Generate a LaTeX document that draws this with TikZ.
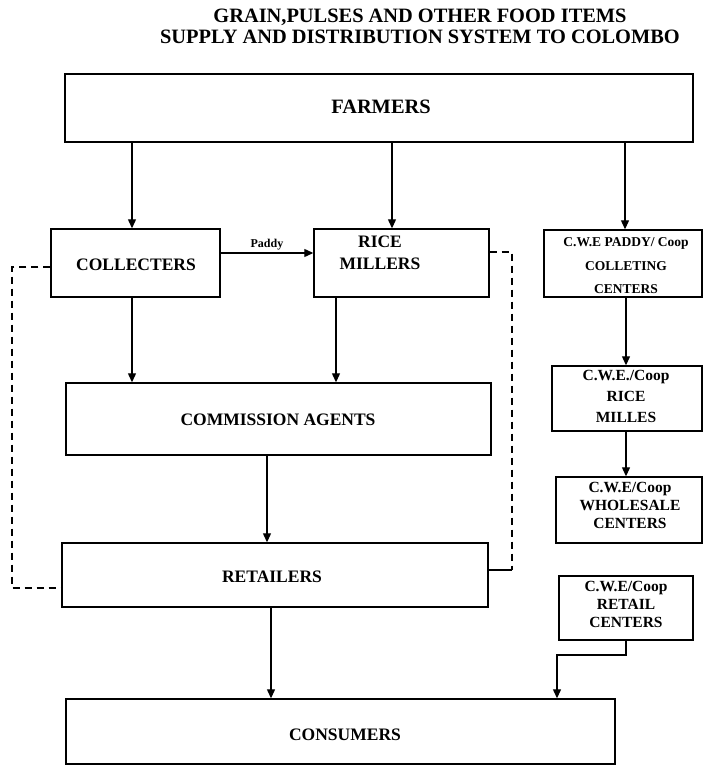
\documentclass[tikz,border=0pt]{standalone}
\usepackage{fontspec}
\setmainfont{Liberation Serif}
\usetikzlibrary{arrows.meta,calc}
\begin{document}
\begin{tikzpicture}[x=1pt,y=-1pt,
  box/.style={draw,line width=1.4pt,inner sep=0pt},
  arr/.style={line width=1.2pt,-{Triangle[length=9pt,width=8pt]}},
  dsh/.style={line width=1.7pt,dash pattern=on 7pt off 5pt},
  big/.style={font=\bfseries\fontsize{20.4}{22}\selectfont},
  lbl/.style={font=\bfseries\fontsize{17.5}{22}\selectfont,align=center,inner sep=0pt},
  sml/.style={font=\bfseries\fontsize{15.5}{18}\selectfont,align=center,inner sep=0pt},
]
\useasboundingbox (0,0) rectangle (703,767);
% title
\node[big,anchor=base,inner sep=0pt] (t1) at (420,23) {GRAIN,PULSES AND OTHER FOOD ITEMS};
\node[big,anchor=base,inner sep=0pt] (t2) at (420,43.5) {SUPPLY AND DISTRIBUTION SYSTEM TO COLOMBO};
% boxes
\node[box,minimum width=628,minimum height=68] (farm) at (379,108) {};
\node[big,inner sep=0pt] (farmt) at (381,107) {FARMERS};
\node[box,minimum width=169,minimum height=68] (coll) at (135.5,263) {};
\node[lbl] (collt) at (136,265) {COLLECTERS};
\node[box,minimum width=175,minimum height=68] (rice) at (401.5,263) {};
\node[lbl] (ricet) at (380,253) {RICE\\MILLERS};
\node[box,minimum width=158,minimum height=67] (pad) at (623,263.5) {};
\node[sml,font=\bfseries\fontsize{13.5}{23.5}\selectfont] (padt) at (626,266) {C.W.E PADDY/ Coop\\COLLETING\\CENTERS};
\node[box,minimum width=150,minimum height=65] (mil) at (627,398.5) {};
\node[sml,font=\bfseries\fontsize{15.5}{21}\selectfont] (milt) at (626,396) {C.W.E./Coop\\RICE\\MILLES};
\node[box,minimum width=146,minimum height=66] (whs) at (629,510) {};
\node[sml] (whst) at (630,505) {C.W.E/Coop\\WHOLESALE\\CENTERS};
\node[box,minimum width=134,minimum height=64] (rtl) at (626,608) {};
\node[sml] (rtlt) at (626,604) {C.W.E/Coop\\RETAIL\\CENTERS};
\node[box,minimum width=425,minimum height=72] (comm) at (278.5,419) {};
\node[lbl] (commt) at (278,420) {COMMISSION AGENTS};
\node[box,minimum width=426,minimum height=64] (ret) at (275,575) {};
\node[lbl] (rett) at (272,577) {RETAILERS};
\node[box,minimum width=549,minimum height=65] (cons) at (340.5,731.5) {};
\node[lbl] (const) at (345,735) {CONSUMERS};
% x positions
\coordinate (xa) at (132,0);
\coordinate (xb) at (392,0);
\coordinate (xc) at (625,0);
\coordinate (xd) at (336,0);
\coordinate (xe) at (267,0);
\coordinate (xf) at (271,0);
\coordinate (xg) at (626,0);
\coordinate (ya) at (0,253);
% arrows
\draw[arr] (farm.south -| xa) -- (coll.north -| xa);
\draw[arr] (farm.south -| xb) -- (rice.north -| xb);
\draw[arr] (farm.south -| xc) -- (pad.north -| xc);
\draw[arr] (coll.east |- ya) -- node[above=1pt,font=\bfseries\fontsize{12}{13}\selectfont,inner sep=1pt] (paddy) {Paddy} (rice.west |- ya);
\draw[arr] (coll.south -| xa) -- (comm.north -| xa);
\draw[arr] (rice.south -| xd) -- (comm.north -| xd);
\draw[arr] (comm.south -| xe) -- (ret.north -| xe);
\draw[arr] (ret.south -| xf) -- (cons.north -| xf);
\draw[arr] (pad.south -| xg) -- (mil.north -| xg);
\draw[arr] (mil.south -| xg) -- (whs.north -| xg);
\coordinate (rb1) at (626,655);
\coordinate (rb2) at (557,655);
\draw[arr] (rtl.south -| rb1) -- (rb1) -- (rb2) -- (cons.north -| rb2);
% dashed links
\coordinate (dl1) at (12,267);
\coordinate (dl2) at (12,588);
\draw[dsh] (coll.west |- dl1) -- (dl1) -- (dl2) -- (ret.west |- dl2);
\coordinate (dr1) at (512,252);
\coordinate (dr2) at (512,570);
\draw[dsh] (rice.east |- dr1) -- (dr1) -- (dr2);
\draw[line width=1.2pt] (dr2) -- (ret.east |- dr2);
\end{tikzpicture}
\end{document}
